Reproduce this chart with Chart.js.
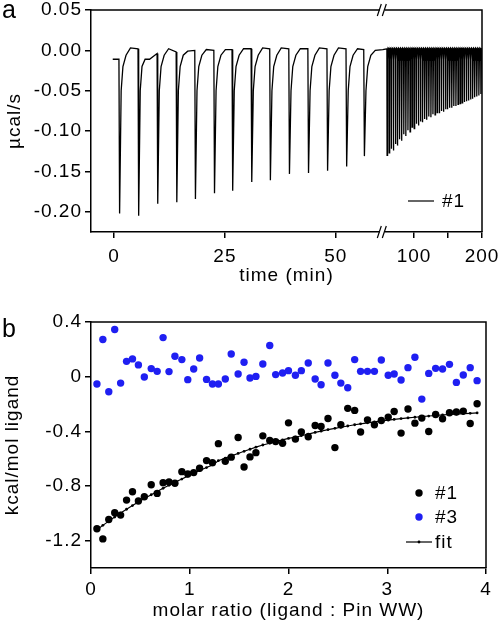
<!DOCTYPE html>
<html>
<head>
<meta charset="utf-8">
<script src="https://cdn.jsdelivr.net/npm/chart.js@4/dist/chart.umd.min.js"></script>
<style>
  html, body { margin: 0; padding: 0; background: #fff; }
  body { width: 500px; height: 624px; position: relative; overflow: hidden; }
  .panel { position: absolute; left: 0; width: 500px; }
  #wrapA { top: 0; height: 295px; }
  #wrapB { top: 300px; height: 324px; }
  .tag { position: absolute; left: 2px; font: 25px/1 "Liberation Sans", Arial, sans-serif; color: #000; z-index: 2; }
</style>
</head>
<body>
<div class="panel" id="wrapA"><canvas id="thermo"></canvas></div>
<div class="panel" id="wrapB"><canvas id="binding"></canvas></div>
<div class="tag" style="top:-3px">a</div>
<div class="tag" style="top:316px">b</div>
<script>
// ---- panel a: raw ITC trace of #1 ----
// injections on the left part of the broken time axis (min) and the peak minimum of each (µcal/s)
const injTimeA = [1.1, 5.4, 9.7, 14.0, 18.2, 22.5, 26.6, 30.9, 35.1, 39.4, 43.7, 48.0, 52.3, 56.3];
const injPeakA = [-0.202, -0.205, -0.190, -0.188, -0.184, -0.177, -0.174, -0.163, -0.161, -0.153, -0.152, -0.149, -0.144, -0.131];
// signal just before each injection, and the level it settles back to
const injPreA = [-0.011, 0.002, -0.004, -0.002, 0.000, 0.000, 0.001, 0.002, 0.002, 0.002, 0.002, 0.002, 0.002, 0.001];
const injSettleA = [0.003, -0.011, 0.002, -0.001, 0.001, 0.001, 0.002, 0.003, 0.003, 0.002, 0.003, 0.003, 0.002, 0.000];
// recovery after a peak: minutes after the injection and signal
const recoverDtA = [0.5, 0.9, 1.6];
const recoverYA = [-0.05, -0.02, -0.006];

// right part of the axis (60-200 min), many small injections
const injTimeB = [60.0, 63.1, 66.1, 69.2, 72.3, 75.4, 78.4, 81.5, 84.6, 87.6, 90.7, 93.8, 96.8, 99.9, 103.0, 106.1,
  109.1, 112.2, 115.3, 118.3, 121.4, 124.5, 127.5, 130.6, 133.7, 136.8, 139.8, 142.9, 146.0, 149.0, 152.1, 155.2,
  158.2, 161.3, 164.4, 167.5, 170.5, 173.6, 176.7, 179.7, 182.8, 185.9, 188.9, 192.0, 195.1, 198.1];
const injPeakB = [-0.130, -0.127, -0.122, -0.124, -0.116, -0.118, -0.110, -0.112, -0.104, -0.106, -0.099, -0.101,
  -0.095, -0.097, -0.091, -0.093, -0.088, -0.089, -0.085, -0.086, -0.082, -0.083, -0.079, -0.080, -0.077, -0.078,
  -0.075, -0.076, -0.073, -0.073, -0.071, -0.071, -0.069, -0.069, -0.067, -0.066, -0.065, -0.064, -0.063, -0.062,
  -0.061, -0.060, -0.058, -0.057, -0.056, -0.054];
const baseB = 0.002;
const recoverDtB = [1.0, 1.8];
const recoverYB = [-0.012, 0.003];

const timeTicksLeft = [0, 25, 50];
const timeTicksRight = [100, 150, 200];
const timeTickText = ['0', '25', '50', '100', '', '200'];
const rateTicks = [-0.20, -0.15, -0.10, -0.05, 0.00, 0.05];

// ---- panel b: integrated heats ----
const molarRatio = [0.06, 0.12, 0.18, 0.24, 0.30, 0.36, 0.42, 0.48, 0.54, 0.61, 0.67, 0.73, 0.79, 0.85, 0.92,
  0.98, 1.04, 1.10, 1.17, 1.23, 1.29, 1.36, 1.42, 1.49, 1.55, 1.61, 1.67, 1.74, 1.81, 1.87, 1.94, 2.00, 2.07,
  2.13, 2.20, 2.27, 2.33, 2.40, 2.47, 2.53, 2.60, 2.67, 2.73, 2.80, 2.87, 2.94, 3.01, 3.07, 3.14, 3.21, 3.28,
  3.35, 3.42, 3.49, 3.56, 3.63, 3.70, 3.77, 3.84, 3.91];
const heat1 = [-1.113, -1.187, -1.045, -0.996, -1.013, -0.903, -0.842, -0.910, -0.879, -0.791, -0.854, -0.776,
  -0.771, -0.780, -0.695, -0.712, -0.702, -0.670, -0.614, -0.629, -0.490, -0.619, -0.589, -0.445, -0.661,
  -0.587, -0.556, -0.433, -0.467, -0.475, -0.487, -0.338, -0.457, -0.404, -0.440, -0.357, -0.365, -0.306,
  -0.519, -0.352, -0.232, -0.247, -0.405, -0.316, -0.352, -0.321, -0.296, -0.255, -0.413, -0.237, -0.340,
  -0.303, -0.401, -0.277, -0.308, -0.264, -0.259, -0.252, -0.343, -0.198];
const heat3 = [-0.054, 0.272, -0.110, 0.345, -0.047, 0.112, 0.130, 0.086, -0.002, 0.059, 0.039, 0.286, 0.037,
  0.149, 0.125, -0.022, 0.056, 0.137, -0.020, -0.054, -0.054, -0.017, 0.166, 0.020, 0.105, -0.010, 0.002,
  0.093, 0.228, 0.015, 0.027, 0.044, 0.010, 0.044, 0.100, -0.017, -0.059, 0.100, 0.010, -0.047, -0.081, 0.125,
  0.039, 0.039, 0.039, 0.122, 0.010, 0.020, -0.024, 0.066, 0.142, -0.164, 0.024, 0.061, 0.056, 0.090, -0.042,
  0.012, 0.066, -0.029];
const heatFit = [-1.120, -1.088, -1.057, -1.027, -0.998, -0.970, -0.943, -0.917, -0.892, -0.864, -0.840, -0.817,
  -0.795, -0.773, -0.749, -0.728, -0.707, -0.687, -0.665, -0.646, -0.615, -0.596, -0.580, -0.562, -0.546,
  -0.531, -0.516, -0.500, -0.487, -0.475, -0.463, -0.452, -0.443, -0.432, -0.420, -0.408, -0.399, -0.388,
  -0.378, -0.370, -0.361, -0.352, -0.345, -0.338, -0.331, -0.324, -0.318, -0.313, -0.307, -0.302, -0.297,
  -0.292, -0.288, -0.284, -0.280, -0.277, -0.274, -0.271, -0.268, -0.265];
const ratioTicks = [0, 1, 2, 3, 4];
const heatTicks = [-1.2, -0.8, -0.4, 0, 0.4];

const FAMILY = "'Liberation Sans', Arial, sans-serif";
Chart.defaults.font.family = FAMILY;
Chart.defaults.font.size = 19;
Chart.defaults.color = '#000';

// broken time axis: left part is 1:1, right part starts at 54 min and is squeezed
const BREAK_AT = 60.6, RIGHT_START = 54, RIGHT_SCALE = 0.1532;
function axisPos(t, right) {
  return right ? BREAK_AT + (t - RIGHT_START) * RIGHT_SCALE : t;
}

const traceA = [{x: -0.3, y: injPreA[0]}];
injTimeA.forEach((t, i) => {
  traceA.push({x: t, y: injPreA[i]});
  traceA.push({x: t + 0.15, y: injPeakA[i]});
  recoverDtA.forEach((dt, k) => traceA.push({x: t + dt, y: Math.min(recoverYA[k], injSettleA[i])}));
  traceA.push({x: t + 2.6, y: injSettleA[i]});
});
traceA.push({x: BREAK_AT, y: 0.001});
injTimeB.forEach((t, i) => {
  traceA.push({x: axisPos(t, true), y: baseB});
  traceA.push({x: axisPos(t + 0.3, true), y: injPeakB[i]});
  recoverDtB.forEach((dt, k) => traceA.push({x: axisPos(t + dt, true), y: recoverYB[k]}));
});

// slightly wider text like the original figure
const spacingPlugin = {
  id: 'spacing',
  beforeUpdate(chart) { chart.ctx.letterSpacing = '1px'; },
  beforeDraw(chart) { chart.ctx.letterSpacing = '1px'; }
};

const framePlugin = {
  id: 'frame',
  afterDatasetsDraw(chart) {
    const {ctx, chartArea: {left, right, top, bottom}} = chart;
    ctx.save();
    ctx.strokeStyle = '#000';
    ctx.lineWidth = 1.5;
    ctx.beginPath();
    ctx.moveTo(left, top);
    ctx.lineTo(right, top);
    ctx.lineTo(right, bottom);
    ctx.stroke();
    ctx.restore();
  }
};

const breakPlugin = {
  id: 'axisBreak',
  afterDraw(chart) {
    const {ctx, chartArea: {top, bottom}} = chart;
    const x = chart.scales.x.getPixelForValue(BREAK_AT);
    ctx.save();
    [top, bottom].forEach(y => {
      ctx.fillStyle = '#fff';
      ctx.fillRect(x - 3, y - 2, 5, 4);
      ctx.strokeStyle = '#000';
      ctx.lineWidth = 1.2;
      ctx.beginPath();
      ctx.moveTo(x - 5.5, y + 6); ctx.lineTo(x - 1.5, y - 6);
      ctx.moveTo(x - 0.5, y + 6); ctx.lineTo(x + 3.5, y - 6);
      ctx.stroke();
    });
    ctx.restore();
  }
};

// legends drawn inside the plot, bottom right
const insideLegend = {
  id: 'insideLegend',
  afterDraw(chart, args, opts) {
    const {ctx, chartArea: {right, bottom}} = chart;
    ctx.save();
    ctx.font = '19px ' + FAMILY;
    ctx.textBaseline = 'middle';
    ctx.fillStyle = '#000';
    opts.rows.forEach(row => {
      const ds = chart.data.datasets[row.index];
      const y = bottom - row.dy;
      const mx = right - opts.markX;
      if (row.line) {
        ctx.strokeStyle = '#000';
        ctx.lineWidth = 1.2;
        ctx.beginPath();
        ctx.moveTo(mx - opts.lineHalf, y);
        ctx.lineTo(mx + opts.lineHalf, y);
        ctx.stroke();
      }
      if (row.dot) {
        ctx.fillStyle = ds.pointBackgroundColor || ds.backgroundColor;
        ctx.beginPath();
        ctx.arc(mx, y, row.dot, 0, Math.PI * 2);
        ctx.fill();
      }
      ctx.fillStyle = '#000';
      ctx.fillText(ds.label, right - opts.textX, y + 1);
    });
    ctx.restore();
  }
};

function tickFromList(list) {
  return scale => { scale.ticks = list.map(v => ({value: v})); };
}
const axisLine = {display: true, color: '#000', width: 1.5};
const tickGrid = {drawOnChartArea: false, drawTicks: true, tickLength: 6, color: '#000', lineWidth: 1.5};

new Chart(document.getElementById('thermo'), {
  type: 'scatter',
  data: {
    datasets: [{
      label: '#1',
      data: traceA,
      showLine: true,
      borderColor: '#000',
      borderWidth: 1.3,
      pointRadius: 0,
      tension: 0
    }]
  },
  options: {
    responsive: true,
    maintainAspectRatio: false,
    animation: false,
    events: [],
    layout: {padding: {left: 0, right: 18, top: 10, bottom: 0}},
    plugins: {
      legend: {display: false},
      tooltip: {enabled: false},
      insideLegend: {markX: 61, lineHalf: 13, textX: 40, rows: [{index: 0, dy: 31, line: true}]}
    },
    scales: {
      x: {
        type: 'linear',
        min: -5.2,
        max: axisPos(200, true),
        afterBuildTicks: tickFromList(timeTicksLeft.map(t => axisPos(t, false))
          .concat(timeTicksRight.map(t => axisPos(t, true)))),
        ticks: {callback: (v, i) => timeTickText[i], padding: 7, maxRotation: 0, autoSkip: false},
        grid: tickGrid,
        border: axisLine,
        title: {display: true, text: 'time (min)', padding: {top: 0, bottom: 8}},
        afterFit: s => { s.height = 63; s.paddingLeft = 0; s.paddingRight = 0; }
      },
      y: {
        min: -0.225,
        max: 0.05,
        afterBuildTicks: tickFromList(rateTicks),
        ticks: {callback: v => v.toFixed(2), padding: 3},
        grid: tickGrid,
        border: axisLine,
        title: {display: true, text: 'µcal/s', padding: {top: 3, bottom: 0}},
        afterFit: s => { s.width = 91; s.paddingTop = 0; s.paddingBottom = 0; }
      }
    }
  },
  plugins: [spacingPlugin, framePlugin, breakPlugin, insideLegend]
});

new Chart(document.getElementById('binding'), {
  type: 'scatter',
  data: {
    datasets: [{
      label: '#1',
      data: molarRatio.map((x, i) => ({x, y: heat1[i]})),
      backgroundColor: '#000',
      pointBackgroundColor: '#000',
      pointRadius: 3.7,
      pointBorderWidth: 0,
      order: 2
    }, {
      label: '#3',
      data: molarRatio.map((x, i) => ({x, y: heat3[i]})),
      backgroundColor: '#1f1ff2',
      pointBackgroundColor: '#1f1ff2',
      pointRadius: 3.7,
      pointBorderWidth: 0,
      order: 3
    }, {
      label: 'fit',
      data: molarRatio.map((x, i) => ({x, y: heatFit[i]})),
      showLine: true,
      borderColor: '#000',
      borderWidth: 1.2,
      backgroundColor: '#000',
      pointBackgroundColor: '#000',
      pointRadius: 1.4,
      pointBorderWidth: 0,
      tension: 0,
      order: 1
    }]
  },
  options: {
    responsive: true,
    maintainAspectRatio: false,
    animation: false,
    events: [],
    layout: {padding: {left: 0, right: 14, top: 22, bottom: 0}},
    plugins: {
      legend: {display: false},
      tooltip: {enabled: false},
      insideLegend: {markX: 67, lineHalf: 13, textX: 51, rows: [
        {index: 0, dy: 75, dot: 3.7},
        {index: 1, dy: 51, dot: 3.7},
        {index: 2, dy: 26, dot: 1.4, line: true}
      ]}
    },
    scales: {
      x: {
        type: 'linear',
        min: 0,
        max: 4,
        afterBuildTicks: tickFromList(ratioTicks),
        ticks: {callback: v => String(v), padding: 4, maxRotation: 0, autoSkip: false},
        grid: tickGrid,
        border: axisLine,
        title: {display: true, text: 'molar ratio (ligand : Pin WW)', padding: {top: 0, bottom: 2}},
        afterFit: s => { s.height = 56; s.paddingLeft = 0; s.paddingRight = 0; }
      },
      y: {
        min: -1.4,
        max: 0.4,
        afterBuildTicks: tickFromList(heatTicks),
        ticks: {callback: v => (v === 0 ? '0' : v.toFixed(1)), padding: 3},
        grid: tickGrid,
        border: axisLine,
        title: {display: true, text: 'kcal/mol ligand', padding: {top: 1, bottom: 0}},
        afterFit: s => { s.width = 91; s.paddingTop = 0; s.paddingBottom = 0; }
      }
    }
  },
  plugins: [spacingPlugin, framePlugin, insideLegend]
});
</script>
</body>
</html>
